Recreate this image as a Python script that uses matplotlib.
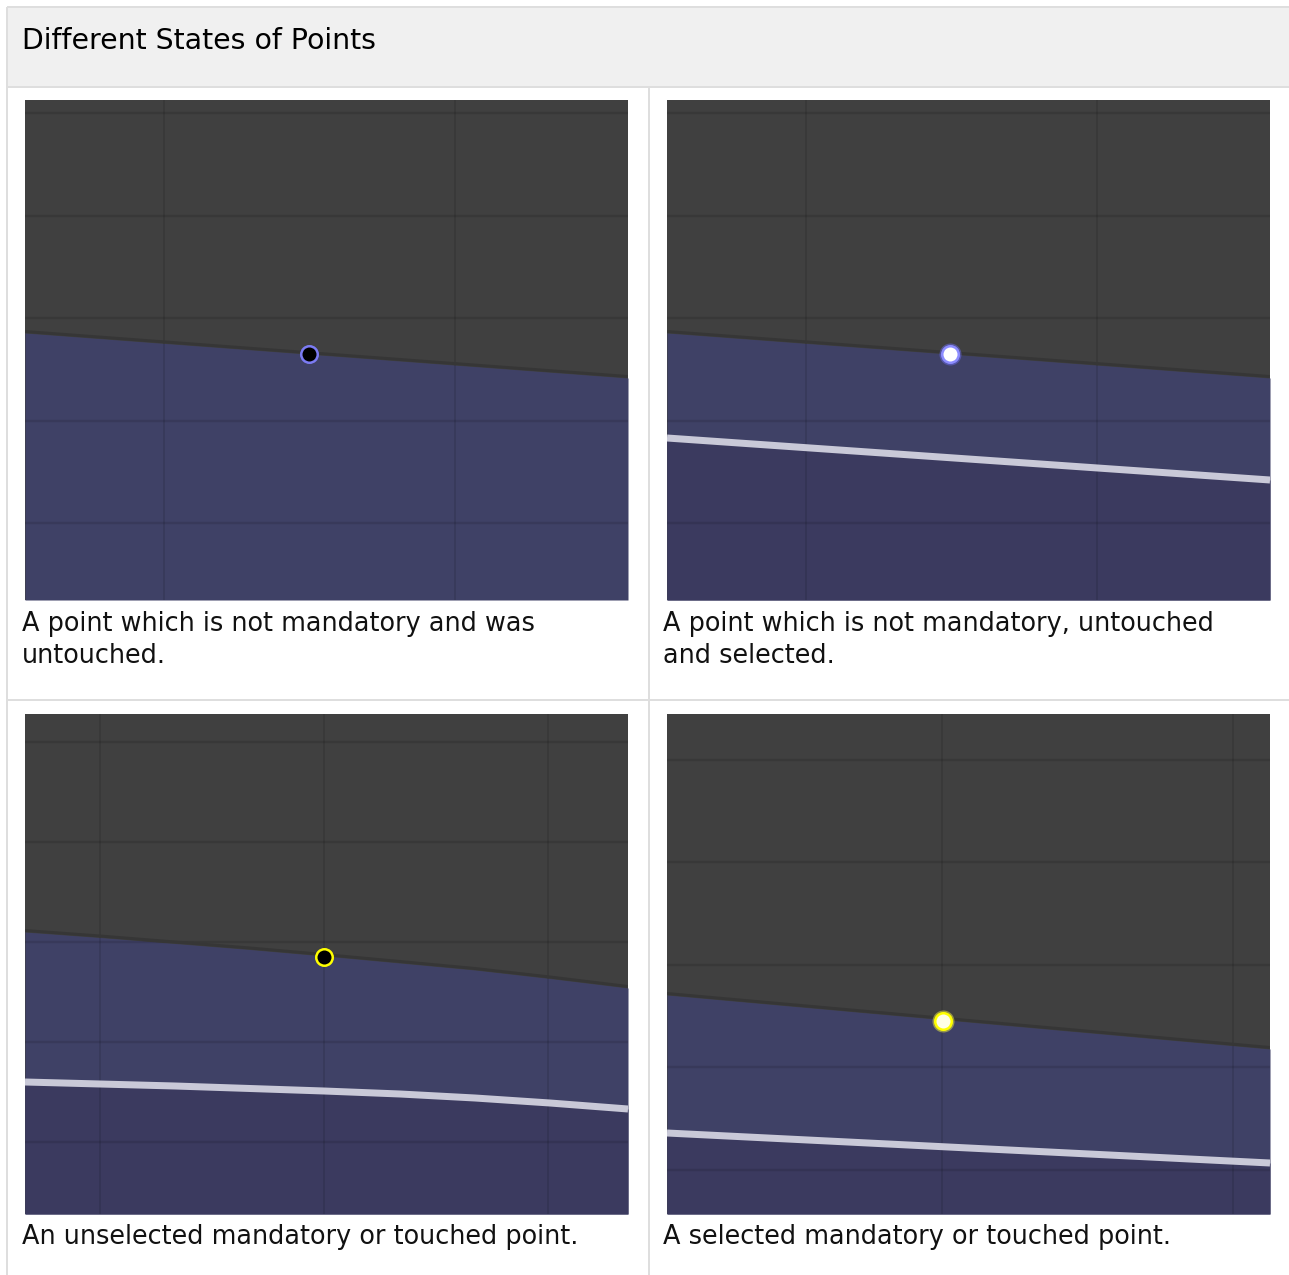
import matplotlib
matplotlib.use("Agg")
import matplotlib.pyplot as plt
from matplotlib.patches import Rectangle
import numpy as np

W, H, DPI = 1289, 1275, 100

# ---------------- data ----------------
title = "Different States of Points"
captions = [
    ["A point which is not mandatory and was", "untouched."],
    ["A point which is not mandatory, untouched", "and selected."],
    ["An unselected mandatory or touched point."],
    ["A selected mandatory or touched point."],
]

# panel-local coordinates: pixels from the panel's top-left corner (603 x 500)
grid_x = [[139, 430], [139, 430], [75, 299, 523], [275, 566]]
grid_y = [[13, 116, 218, 321, 423], [13, 116, 218, 321, 423],
          [28, 128, 228, 328, 428], [46, 148, 251, 353, 456]]

boundary_x = [[0, 603], [0, 603],
              [0, 75, 150, 225, 299, 375, 450, 525, 603], [0, 603]]
boundary_y = [[233, 278], [233, 278],
              [218, 223.5, 229.5, 235.5, 242, 249, 256, 264.5, 274], [281, 335]]

white_x = [[], [0, 603], [0, 75, 150, 225, 299, 375, 450, 525, 603], [0, 603]]
white_y = [[], [338, 380], [368, 370, 372, 374.5, 377, 380, 384, 389, 395], [419, 449]]

point_x = [284, 283, 299, 276]
point_y = [254, 254, 243, 307]

# ---------------- styles ----------------
PW, PH = 603, 500
panel_origin = [(25, 100), (667, 100), (25, 714), (667, 714)]
caption_origin = [(22, 631), (663, 631), (22, 1244), (663, 1244)]
LINE_STEP = 32
point_face = ["#000000", "#ffffff", "#000000", "#ffffe6"]
point_edge = ["#7b7bf3", "#8c8cff", "#ffff00", "#ffff00"]
point_glow = [None, "#7070ff", None, "#ffff40"]

DARK = "#404040"
BLUE = "#3f4166"
BLUE2 = "#3b3a5f"
BORDER = "#dedede"
PX = 72.0 / DPI  # points per pixel

fig = plt.figure(figsize=(W / DPI, H / DPI), dpi=DPI)
fig.patch.set_facecolor("white")

bg = fig.add_axes([0, 0, 1, 1])
bg.set_xlim(0, W)
bg.set_ylim(H, 0)
bg.axis("off")
bg.set_zorder(0)

# header band and table rules
bg.add_patch(Rectangle((8, 8), W - 8, 78, facecolor="#f0f0f0", edgecolor="none"))
lw_rule = 2 * PX
bg.plot([7, W], [7, 7], color=BORDER, lw=lw_rule, solid_capstyle="butt")
bg.plot([7, 7], [7, H], color=BORDER, lw=lw_rule, solid_capstyle="butt")
bg.plot([7, W], [87, 87], color=BORDER, lw=lw_rule, solid_capstyle="butt")
bg.plot([649, 649], [87, H], color=BORDER, lw=lw_rule, solid_capstyle="butt")
bg.plot([7, W], [700, 700], color=BORDER, lw=lw_rule, solid_capstyle="butt")

bg.text(22, 49, title, fontsize=20.4, ha="left", va="baseline", color="#000000",
        family="DejaVu Sans", fontweight="medium")

for (cx, cy), lines in zip(caption_origin, captions):
    for k, line in enumerate(lines):
        bg.text(cx, cy + k * LINE_STEP, line, fontsize=18.4, ha="left", va="baseline",
                color="#111111", family="DejaVu Sans")

for i in range(4):
    ox, oy = panel_origin[i]
    ax = fig.add_axes([ox / W, 1 - (oy + PH) / H, PW / W, PH / H])
    ax.set_zorder(1)
    ax.set_xlim(0, PW)
    ax.set_ylim(PH, 0)
    ax.axis("off")
    ax.add_patch(Rectangle((0, 0), PW, PH, facecolor=DARK, edgecolor="none", zorder=0))

    bx = np.array(boundary_x[i], float)
    by = np.array(boundary_y[i], float)
    ax.fill_between(bx, by, PH, color=BLUE, lw=0, zorder=1)
    if white_x[i]:
        wx = np.array(white_x[i], float)
        wy = np.array(white_y[i], float)
        ax.fill_between(wx, wy, PH, color=BLUE2, lw=0, zorder=1.1)

    for gx in grid_x[i]:
        ax.axvline(gx, color="black", alpha=0.10, lw=2 * PX, zorder=2)
    for gy in grid_y[i]:
        ax.axhline(gy, color="black", alpha=0.11, lw=2.5 * PX, zorder=2)

    ax.plot(bx, by - 1.5, color="#363636", lw=3 * PX, zorder=3,
            solid_capstyle="butt", solid_joinstyle="round")

    if white_x[i]:
        ax.plot(wx, wy, color="#c9c9d8", lw=7 * PX, zorder=4,
                solid_capstyle="butt", solid_joinstyle="round")

    if point_glow[i]:
        ax.plot([point_x[i]], [point_y[i]], "o", ms=22 * PX, color=point_glow[i],
                alpha=0.45, mew=0, zorder=5)
    ax.plot([point_x[i]], [point_y[i]], "o", ms=16.5 * PX, mfc=point_face[i],
            mec=point_edge[i], mew=2.5 * PX, zorder=6)

fig.savefig("out.png", dpi=DPI, facecolor="white")
